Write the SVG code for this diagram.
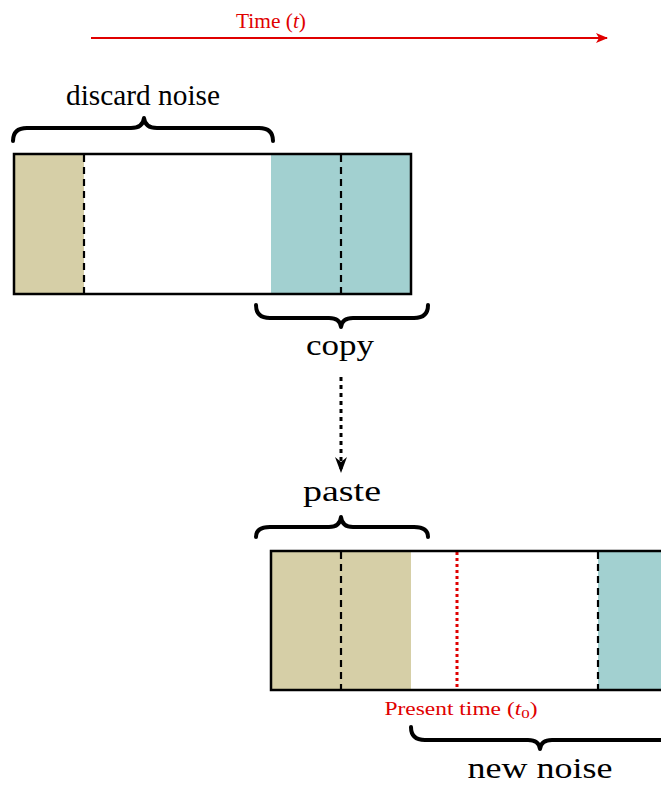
<svg xmlns="http://www.w3.org/2000/svg" width="661" height="785" viewBox="0 0 661 785">
<defs>
<style>
.lbl{font-family:"Liberation Serif","DejaVu Serif",serif;fill:#000;text-anchor:middle}
.red{fill:#e00000}
.box{fill:none;stroke:#000;stroke-width:2.5}
.dash{stroke:#000;stroke-width:2.2;stroke-dasharray:7,5}
.brace{fill:none;stroke:#000;stroke-width:4;stroke-linecap:round;stroke-linejoin:round}
.tan{fill:#d6cfa7}
.teal{fill:#a2d0d0}
</style>
<marker id="redhead" viewBox="0 0 12 10" refX="11" refY="5" markerWidth="12" markerHeight="10" markerUnits="userSpaceOnUse" orient="auto">
<path d="M0,0 L12,5 L0,10 L3,5 Z" fill="#e00000"/>
</marker>
<marker id="blackhead" viewBox="0 0 16 12" refX="15" refY="6" markerWidth="16" markerHeight="12" markerUnits="userSpaceOnUse" orient="auto">
<path d="M0,0 L16,6 L0,12 L5,6 Z" fill="#000"/>
</marker>
</defs>
<rect width="661" height="785" fill="#fff"/>

<g id="time-axis">
<line x1="91" y1="38" x2="607" y2="38" stroke="#e00000" stroke-width="2" marker-end="url(#redhead)"/>
<text class="lbl red" x="271" y="28" font-size="21" textLength="70" lengthAdjust="spacingAndGlyphs">Time (<tspan font-style="italic">t</tspan>)</text>
</g>

<g id="buffer-top">
<rect class="tan" x="14" y="154" width="70" height="140"/>
<rect class="teal" x="271" y="154" width="140" height="140"/>
<line class="dash" x1="84" y1="155" x2="84" y2="293"/>
<line class="dash" x1="341" y1="155" x2="341" y2="293"/>
<rect class="box" x="14" y="154" width="397" height="140"/>
</g>

<g id="brace-discard">
<path class="brace" d="M13,141 Q13,128 27,128 L131,128 Q143,128 144,118 Q145,128 157,128 L259,128 Q273,128 273,141"/>
<text class="lbl" x="143" y="105" font-size="29" textLength="154" lengthAdjust="spacingAndGlyphs">discard noise</text>
</g>

<g id="brace-copy">
<path class="brace" d="M256,305 Q256,318 270,318 L329,318 Q340,318 341,327 Q342,318 353,318 L414,318 Q428,318 428,305"/>
<text class="lbl" x="340" y="355" font-size="29" textLength="68" lengthAdjust="spacingAndGlyphs">copy</text>
</g>

<g id="connectors">
<line x1="341" y1="377" x2="341" y2="472" stroke="#000" stroke-width="3" stroke-dasharray="4,4" marker-end="url(#blackhead)"/>
</g>

<g id="brace-paste">
<path class="brace" d="M256,537 Q256,527 270,527 L329,527 Q340,527 341,517 Q342,527 353,527 L414,527 Q428,527 428,537"/>
<text class="lbl" x="342" y="501" font-size="29" textLength="78" lengthAdjust="spacingAndGlyphs">paste</text>
</g>

<g id="buffer-bottom">
<rect class="tan" x="271" y="551" width="140" height="139"/>
<rect class="teal" x="598" y="551" width="70" height="139"/>
<line class="dash" x1="341" y1="552" x2="341" y2="689"/>
<line class="dash" x1="598" y1="552" x2="598" y2="689"/>
<line x1="457" y1="552" x2="457" y2="689" stroke="#e00000" stroke-width="3" stroke-dasharray="3,3"/>
<rect class="box" x="271" y="551" width="420" height="139"/>
<text class="lbl red" x="461" y="715" font-size="18" textLength="153" lengthAdjust="spacingAndGlyphs">Present time (<tspan font-style="italic">t</tspan><tspan font-size="13" dy="3">0</tspan><tspan dy="-3">)</tspan></text>
</g>

<g id="brace-new">
<path class="brace" d="M411,727 Q411,740 425,740 L528,740 Q539,740 540,749 Q541,740 552,740 L680,740"/>
<text class="lbl" x="540" y="778" font-size="29" textLength="145" lengthAdjust="spacingAndGlyphs">new noise</text>
</g>
</svg>
